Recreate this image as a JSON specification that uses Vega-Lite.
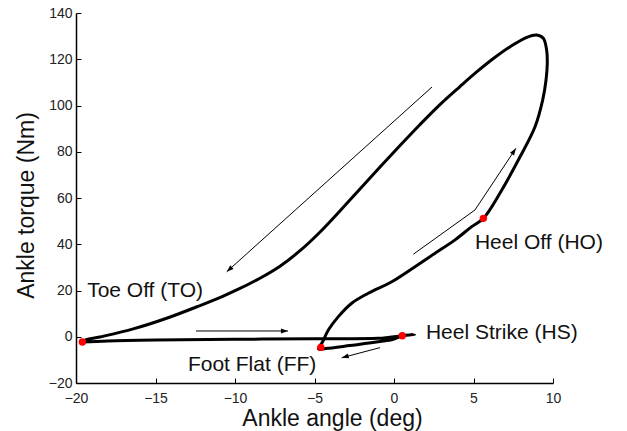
{
  "$schema": "https://vega.github.io/schema/vega-lite/v6.json",
  "width": 477,
  "height": 370,
  "autosize": {"type": "none"},
  "padding": {"left": 76, "top": 13, "right": 74, "bottom": 48},
  "background": "white",
  "config": {
    "view": {"stroke": null},
    "font": "Liberation Sans",
    "axis": {
      "grid": false,
      "domainColor": "black",
      "domainWidth": 1.5,
      "tickColor": "black",
      "tickWidth": 1,
      "tickSize": -5,
      "labelFlush": false,
      "labelOverlap": false,
      "labelFont": "Liberation Sans",
      "labelFontSize": 14,
      "labelColor": "#222",
      "titleFont": "Liberation Sans",
      "titleFontSize": 23,
      "titleFontWeight": "normal",
      "titleColor": "#111"
    }
  },
  "datasets": {
    "curve": [
      {"i": 1, "x": -19.6, "y": -2.3},
      {"i": 2, "x": -18.0, "y": -1.8},
      {"i": 3, "x": -15.0, "y": -1.4},
      {"i": 4, "x": -10.0, "y": -1.1},
      {"i": 5, "x": -5.0, "y": -0.9},
      {"i": 6, "x": -1.0, "y": -0.7},
      {"i": 7, "x": -0.36, "y": -0.3},
      {"i": 8, "x": 0.52, "y": 0.45},
      {"i": 9, "x": 1.28, "y": 1.05},
      {"i": 10, "x": 0.5, "y": 0.3},
      {"i": 11, "x": -0.04, "y": -1.1},
      {"i": 12, "x": -0.88, "y": -2.1},
      {"i": 13, "x": -2.77, "y": -3.8},
      {"i": 14, "x": -4.3, "y": -5.1},
      {"i": 15, "x": -4.75, "y": -5.3},
      {"i": 16, "x": -4.5, "y": -2.3},
      {"i": 17, "x": -4.13, "y": 2.9},
      {"i": 18, "x": -3.5, "y": 8.7},
      {"i": 19, "x": -2.66, "y": 14.5},
      {"i": 20, "x": -1.62, "y": 18.8},
      {"i": 21, "x": -0.14, "y": 23.8},
      {"i": 22, "x": 1.32, "y": 30.3},
      {"i": 23, "x": 2.58, "y": 36.1},
      {"i": 24, "x": 3.84, "y": 41.9},
      {"i": 25, "x": 4.89, "y": 47.6},
      {"i": 26, "x": 5.62, "y": 51.2},
      {"i": 27, "x": 6.67, "y": 62.2},
      {"i": 28, "x": 7.92, "y": 77.7},
      {"i": 29, "x": 8.87, "y": 90.8},
      {"i": 30, "x": 9.35, "y": 102.3},
      {"i": 31, "x": 9.56, "y": 110.9},
      {"i": 32, "x": 9.64, "y": 118.2},
      {"i": 33, "x": 9.6, "y": 124.0},
      {"i": 34, "x": 9.39, "y": 129.1},
      {"i": 35, "x": 8.97, "y": 130.5},
      {"i": 36, "x": 8.35, "y": 129.5},
      {"i": 37, "x": 7.3, "y": 125.4},
      {"i": 38, "x": 6.25, "y": 120.3},
      {"i": 39, "x": 5.2, "y": 114.5},
      {"i": 40, "x": 4.15, "y": 108.2},
      {"i": 41, "x": 2.89, "y": 100.4},
      {"i": 42, "x": 1.64, "y": 91.8},
      {"i": 43, "x": 0.38, "y": 82.7},
      {"i": 44, "x": -0.88, "y": 73.4},
      {"i": 45, "x": -2.14, "y": 63.9},
      {"i": 46, "x": -3.4, "y": 54.4},
      {"i": 47, "x": -4.65, "y": 45.3},
      {"i": 48, "x": -5.91, "y": 37.2},
      {"i": 49, "x": -7.17, "y": 30.5},
      {"i": 50, "x": -8.43, "y": 25.3},
      {"i": 51, "x": -9.69, "y": 20.9},
      {"i": 52, "x": -10.74, "y": 17.6},
      {"i": 53, "x": -12.2, "y": 13.5},
      {"i": 54, "x": -14.3, "y": 8.0},
      {"i": 55, "x": -16.4, "y": 3.4},
      {"i": 56, "x": -18.5, "y": -0.1},
      {"i": 57, "x": -19.43, "y": -1.5},
      {"i": 58, "x": -19.6, "y": -2.3}
    ],
    "arrows": [
      {"arrow": "a1", "i": 1, "x": 2.39, "y": 108.0},
      {"arrow": "a1", "i": 2, "x": -10.52, "y": 28.1},
      {"arrow": "a2", "i": 1, "x": -12.45, "y": 2.5},
      {"arrow": "a2", "i": 2, "x": -6.67, "y": 2.5},
      {"arrow": "a3", "i": 1, "x": -0.88, "y": -4.7},
      {"arrow": "a3", "i": 2, "x": -3.29, "y": -9.1},
      {"arrow": "a4", "i": 1, "x": 1.22, "y": 35.7},
      {"arrow": "a4", "i": 2, "x": 5.09, "y": 54.8},
      {"arrow": "a4", "i": 3, "x": 7.67, "y": 81.5}
    ],
    "events": [
      {"event": "TO", "x": -19.6, "y": -2.3},
      {"event": "FF", "x": -4.6, "y": -4.6},
      {"event": "HS", "x": 0.52, "y": 0.4},
      {"event": "HO", "x": 5.62, "y": 51.2}
    ],
    "labels": [
      {"label": "Toe Off (TO)", "x": -19.3, "y": 19.8},
      {"label": "Foot Flat (FF)", "x": -12.96, "y": -12.0},
      {"label": "Heel Strike (HS)", "x": 2.01, "y": 1.6},
      {"label": "Heel Off (HO)", "x": 5.09, "y": 40.4}
    ]
  },
  "layer": [
    {
      "data": {"name": "curve"},
      "mark": {"type": "line", "color": "black", "strokeWidth": 3, "interpolate": "catmull-rom"},
      "encoding": {
        "x": {
          "field": "x", "type": "quantitative",
          "scale": {"domain": [-20, 10], "nice": false, "zero": false},
          "axis": {
            "values": [-20, -15, -10, -5, 0, 5, 10],
            "title": "Ankle angle (deg)",
            "titleX": 256, "titleY": 35,
            "titleAlign": "center", "titleBaseline": "middle",
            "labelPadding": 13
          }
        },
        "y": {
          "field": "y", "type": "quantitative",
          "scale": {"domain": [-20, 140], "nice": false, "zero": false},
          "axis": {
            "values": [-20, 0, 20, 40, 60, 80, 100, 120, 140],
            "title": "Ankle torque (Nm)",
            "titleX": -50, "titleY": 192, "titleAngle": 270,
            "titleAlign": "center", "titleBaseline": "middle",
            "labelPadding": 9
          }
        },
        "order": {"field": "i", "type": "quantitative"}
      }
    },
    {
      "data": {"name": "arrows"},
      "mark": {"type": "line", "color": "black", "strokeWidth": 1},
      "encoding": {
        "x": {"field": "x", "type": "quantitative"},
        "y": {"field": "y", "type": "quantitative"},
        "detail": {"field": "arrow", "type": "nominal"},
        "order": {"field": "i", "type": "quantitative"}
      }
    },
    {
      "data": {"name": "arrows"},
      "transform": [{"filter": "datum.arrow == 'a1' && datum.i == 2"}],
      "mark": {"type": "point", "shape": "M0,0L-0.7,2L0.7,2Z", "filled": true, "color": "black", "opacity": 1, "size": 49, "angle": 228},
      "encoding": {"x": {"field": "x", "type": "quantitative"}, "y": {"field": "y", "type": "quantitative"}}
    },
    {
      "data": {"name": "arrows"},
      "transform": [{"filter": "datum.arrow == 'a2' && datum.i == 2"}],
      "mark": {"type": "point", "shape": "M0,0L-0.7,2L0.7,2Z", "filled": true, "color": "black", "opacity": 1, "size": 49, "angle": 90},
      "encoding": {"x": {"field": "x", "type": "quantitative"}, "y": {"field": "y", "type": "quantitative"}}
    },
    {
      "data": {"name": "arrows"},
      "transform": [{"filter": "datum.arrow == 'a3' && datum.i == 2"}],
      "mark": {"type": "point", "shape": "M0,0L-0.7,2L0.7,2Z", "filled": true, "color": "black", "opacity": 1, "size": 49, "angle": 255},
      "encoding": {"x": {"field": "x", "type": "quantitative"}, "y": {"field": "y", "type": "quantitative"}}
    },
    {
      "data": {"name": "arrows"},
      "transform": [{"filter": "datum.arrow == 'a4' && datum.i == 3"}],
      "mark": {"type": "point", "shape": "M0,0L-0.7,2L0.7,2Z", "filled": true, "color": "black", "opacity": 1, "size": 49, "angle": 34},
      "encoding": {"x": {"field": "x", "type": "quantitative"}, "y": {"field": "y", "type": "quantitative"}}
    },
    {
      "data": {"name": "events"},
      "mark": {"type": "point", "shape": "circle", "filled": true, "color": "#ff0000", "opacity": 1, "size": 55},
      "encoding": {"x": {"field": "x", "type": "quantitative"}, "y": {"field": "y", "type": "quantitative"}}
    },
    {
      "data": {"name": "labels"},
      "mark": {"type": "text", "align": "left", "baseline": "middle", "fontSize": 21, "font": "Liberation Sans", "color": "#111"},
      "encoding": {
        "x": {"field": "x", "type": "quantitative"},
        "y": {"field": "y", "type": "quantitative"},
        "text": {"field": "label", "type": "nominal"}
      }
    }
  ]
}
